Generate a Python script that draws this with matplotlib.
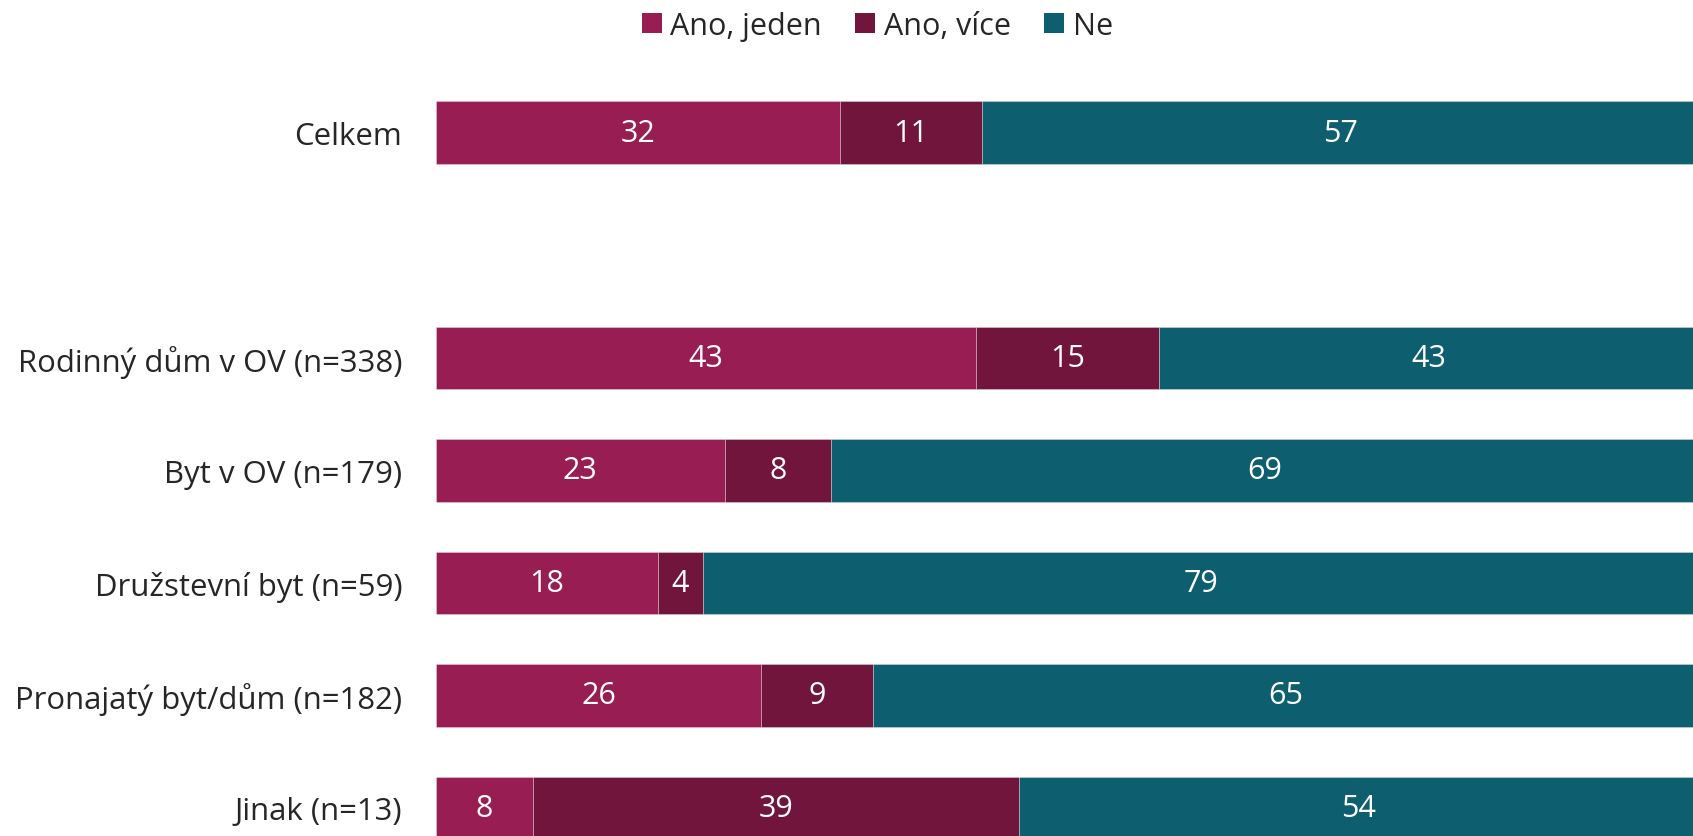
import matplotlib
matplotlib.use("Agg")
import matplotlib.pyplot as plt
from matplotlib.patches import Patch

plt.rcParams['font.family'] = ['Open Sans', 'DejaVu Sans']

categories = ["Celkem", "", "Rodinný dům v OV (n=338)", "Byt v OV (n=179)",
              "Družstevní byt (n=59)", "Pronajatý byt/dům (n=182)", "Jinak (n=13)"]
series_names = ["Ano, jeden", "Ano, více", "Ne"]
ano_jeden = [32.0, None, 42.8, 22.9, 17.6, 25.8, 7.7]
ano_vice = [11.3, None, 14.5, 8.4, 3.6, 8.8, 38.5]
ne = [56.7, None, 42.7, 68.7, 78.8, 65.4, 53.8]
ano_jeden_labels = ["32", "", "43", "23", "18", "26", "8"]
ano_vice_labels = ["11", "", "15", "8", "4", "9", "39"]
ne_labels = ["57", "", "43", "69", "79", "65", "54"]
colors = ["#981D52", "#71153D", "#0D5F6F"]

W, H = 1693, 837
fig = plt.figure(figsize=(W / 100, H / 100), dpi=100)
left_px, pitch, top_center = 435.7, 112.55, 133.7
ax_w = 1262.5
ax = fig.add_axes([left_px / W, 0, ax_w / W, 1])

y_top = -top_center / pitch
y_bot = (H - top_center) / pitch
ax.set_ylim(y_bot, y_top)
ax.set_xlim(0, 100)

FS = 22
FS_CAT = 22.4
bar_h = 0.555
for i, cat in enumerate(categories):
    vals = [ano_jeden[i], ano_vice[i], ne[i]]
    labs = [ano_jeden_labels[i], ano_vice_labels[i], ne_labels[i]]
    if vals[0] is None:
        continue
    start = 0
    for v, lab, c in zip(vals, labs, colors):
        ax.barh(i, v, left=start, height=bar_h, color=c,
                edgecolor=(1, 1, 1, 0.35), linewidth=0.6)
        ax.text(start + v / 2, i, lab, ha="center", va="center",
                color="white", fontsize=FS)
        start += v

ax.set_yticks(range(len(categories)))
ax.set_yticklabels(categories, fontsize=FS_CAT, color="#262626")
ax.tick_params(axis="y", length=0, pad=24)
ax.set_xticks([])
for s in ax.spines.values():
    s.set_visible(False)

handles = [Patch(facecolor=c, edgecolor="none", label=n) for c, n in zip(colors, series_names)]
fig.legend(handles=handles, loc="center", bbox_to_anchor=(877.3 / W, 1 - 27 / H),
           ncol=3, frameon=False, fontsize=FS, handlelength=0.65, handleheight=0.65,
           handletextpad=0.28, columnspacing=1.1, labelcolor="#262626")

fig.savefig("out.png", dpi=100)
